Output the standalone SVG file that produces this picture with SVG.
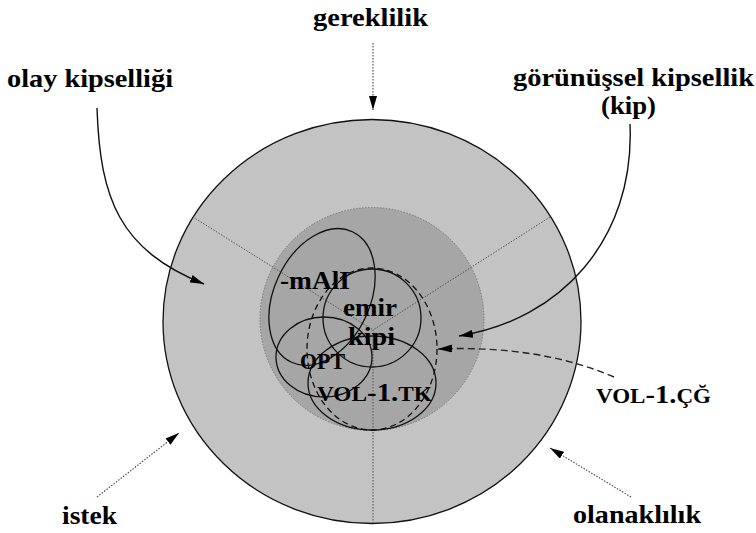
<svg xmlns="http://www.w3.org/2000/svg" width="756" height="533" viewBox="0 0 756 533">
<defs>
<style>
.lbl{font-family:"Liberation Serif","Times New Roman",serif;font-weight:bold;fill:#000;font-size:26px}
.sc{font-size:21px}
.ring{fill:none;stroke:#111;stroke-width:1.3}
.dash{fill:none;stroke:#111;stroke-width:1.3;stroke-dasharray:6 4}
.rad{stroke:#555;stroke-width:1;stroke-dasharray:1.5 1.5;fill:none}
.sol{fill:none;stroke:#111;stroke-width:1.4}
.dot{fill:none;stroke:#444;stroke-width:1.1;stroke-dasharray:1.5 1.5}
.dsh{fill:none;stroke:#222;stroke-width:1.4;stroke-dasharray:7 4}
</style>
<marker id="ah" viewBox="0 0 14 8" refX="14" refY="4" markerWidth="14" markerHeight="8" markerUnits="userSpaceOnUse" orient="auto">
<path d="M0 0 L14 4 L0 8 Z" fill="#000"/>
</marker>
</defs>
<rect width="756" height="533" fill="#fff"/>
<g id="outer-area">
<ellipse cx="372" cy="321.5" rx="209" ry="202" fill="#c3c3c3" stroke="#111" stroke-width="1.3"/>
</g>
<g id="inner-area">
<ellipse cx="372" cy="319" rx="112" ry="111.5" fill="#a6a6a6" stroke="#777" stroke-width="1" stroke-dasharray="1.5 1.5"/>
</g>
<g id="dividers">
<line class="rad" x1="193" y1="217" x2="373" y2="330"/>
<line class="rad" x1="550" y1="217" x2="373" y2="330"/>
<line class="rad" x1="373" y1="330" x2="373" y2="523"/>
</g>
<g id="set-mAlI"><ellipse class="ring" cx="322" cy="297" rx="48" ry="72" transform="rotate(25 322 297)"/></g>
<g id="set-emir-kipi"><circle class="ring" cx="372" cy="318" r="49"/></g>
<g id="set-OPT"><ellipse class="ring" cx="324" cy="357" rx="48" ry="40"/></g>
<g id="set-VOL-TK"><ellipse class="ring" cx="372" cy="383" rx="64" ry="47"/></g>
<g id="set-VOL-CG"><ellipse class="dash" cx="372" cy="349" rx="65" ry="81"/></g>
<g id="inner-labels">
<text class="lbl" x="280" y="289" textLength="70" lengthAdjust="spacingAndGlyphs">-mAlI</text>
<text class="lbl" x="343" y="316" textLength="54" lengthAdjust="spacingAndGlyphs">emir</text>
<text class="lbl" x="348" y="345" textLength="47" lengthAdjust="spacingAndGlyphs">kipi</text>
<text class="lbl" x="300" y="369" style="font-size:23px" textLength="45" lengthAdjust="spacingAndGlyphs">OPT</text>
<text class="lbl" x="317" y="401" textLength="115" lengthAdjust="spacingAndGlyphs"><tspan class="sc">VOL</tspan>-1.<tspan class="sc">TK</tspan></text>
</g>
<g id="connectors">
<line class="dot" x1="373" y1="43" x2="373" y2="110" marker-end="url(#ah)"/>
<path class="sol" d="M97 108 C100 200 120 250 204 284" marker-end="url(#ah)"/>
<path class="sol" d="M630 124 C635 240 560 320 459 336" marker-end="url(#ah)"/>
<path class="dsh" d="M614 377 Q540 345 438 349" marker-end="url(#ah)"/>
<line class="dot" x1="97" y1="497" x2="179" y2="433" marker-end="url(#ah)"/>
<line class="dot" x1="631" y1="497" x2="550" y2="448" marker-end="url(#ah)"/>
</g>
<g id="label-gereklilik"><text class="lbl" x="313" y="26" textLength="115" lengthAdjust="spacingAndGlyphs">gereklilik</text></g>
<g id="label-olay"><text class="lbl" x="7" y="87" textLength="166" lengthAdjust="spacingAndGlyphs">olay kipselliği</text></g>
<g id="label-gorunussel">
<text class="lbl" x="513" y="86" textLength="241" lengthAdjust="spacingAndGlyphs">görünüşsel kipsellik</text>
<text class="lbl" x="601" y="114" textLength="55" lengthAdjust="spacingAndGlyphs">(kip)</text>
</g>
<g id="label-VOL-CG"><text class="lbl" x="596" y="403" textLength="115" lengthAdjust="spacingAndGlyphs"><tspan class="sc">VOL</tspan>-1.<tspan class="sc">ÇĞ</tspan></text></g>
<g id="label-istek"><text class="lbl" x="62" y="524" textLength="55" lengthAdjust="spacingAndGlyphs">istek</text></g>
<g id="label-olanaklilik"><text class="lbl" x="573" y="523" textLength="128" lengthAdjust="spacingAndGlyphs">olanaklılık</text></g>
</svg>
